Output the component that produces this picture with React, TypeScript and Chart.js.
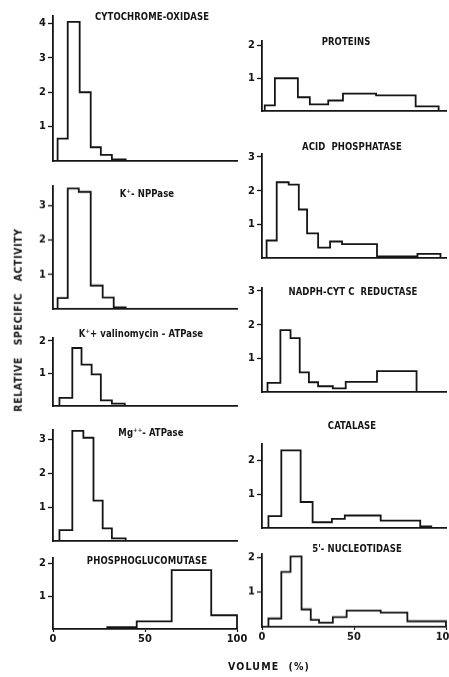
import React, { useEffect, useRef } from 'react';
import { Chart, registerables } from 'chart.js';

Chart.register(...registerables);

// ---------- data (bin edges in % volume, relative specific activity per bin) ----------
const volumeTicks = [0, 50, 100];

const cytoEdges = [2.5, 8, 14.5, 20.5, 26, 32, 39.5];
const cytoValues = [0.65, 4.05, 2.0, 0.4, 0.18, 0.05];
const cytoTicks = [1, 2, 3, 4];

const nppEdges = [2.5, 8, 14, 20.5, 27, 33, 39.5];
const nppValues = [0.32, 3.5, 3.4, 0.68, 0.33, 0.05];
const nppTicks = [1, 2, 3];

const valEdges = [3.5, 10.5, 15.5, 21, 26, 32, 39];
const valValues = [0.25, 1.78, 1.27, 0.97, 0.17, 0.07];
const valTicks = [1, 2];

const mgEdges = [3.5, 10.5, 16.5, 22, 27, 32, 39.5];
const mgValues = [0.32, 3.25, 3.05, 1.19, 0.37, 0.08];
const mgTicks = [1, 2, 3];

const pgmEdges = [29.5, 45.5, 64.5, 86, 100];
const pgmValues = [0.06, 0.23, 1.8, 0.42];
const pgmTicks = [1, 2];

const protEdges = [1.5, 7, 19.5, 26, 36, 44, 62, 83.5, 96];
const protValues = [0.17, 1.0, 0.42, 0.2, 0.32, 0.53, 0.48, 0.14];
const protTicks = [1, 2];

const acidEdges = [2.5, 8, 14.5, 20, 24.5, 30.5, 37, 43.5, 62.5, 84.5, 97];
const acidValues = [0.52, 2.25, 2.18, 1.44, 0.73, 0.31, 0.49, 0.41, 0.05, 0.12];
const acidTicks = [1, 2, 3];

const nadphEdges = [3, 10, 15.5, 20.5, 25.5, 30.5, 38.5, 45.5, 62.5, 84];
const nadphValues = [0.27, 1.84, 1.6, 0.58, 0.29, 0.17, 0.11, 0.3, 0.62];
const nadphTicks = [1, 2, 3];

const catEdges = [3.5, 10.5, 21, 27.5, 38, 45, 64.5, 86, 92];
const catValues = [0.35, 2.3, 0.77, 0.17, 0.27, 0.37, 0.22, 0.05];
const catTicks = [1, 2];

const nucEdges = [3.5, 10.5, 15.5, 21.5, 26.5, 31, 38.5, 46, 64.5, 79, 100];
const nucValues = [0.24, 1.58, 2.02, 0.5, 0.2, 0.12, 0.28, 0.47, 0.41, 0.16];
const nucTicks = [1, 2];

// ---------- layout ----------
const INK = '#151515';
const FONT = "'DejaVu Sans Condensed', 'Liberation Sans Narrow', 'DejaVu Sans', sans-serif";
const PLOT_W = 184;
const YW = 30;
const PAD_T = 8;
const PAD_R = 12;
const LEFT_X = 53;
const RIGHT_X = 262;

type Panel = {
  title: string;
  edges: number[];
  values: number[];
  yTicks: number[];
  yMax: number;
  left: number;
  top: number;
  bottom: number;
  xLabels: boolean;
  tx: number;
  ty: number;
};

const panels: Panel[] = [
  { title: 'CYTOCHROME-OXIDASE', edges: cytoEdges, values: cytoValues, yTicks: cytoTicks, yMax: 4.23, left: LEFT_X, top: 15, bottom: 161, xLabels: false, tx: 152, ty: 16 },
  { title: 'K\u207A- NPPase', edges: nppEdges, values: nppValues, yTicks: nppTicks, yMax: 3.58, left: LEFT_X, top: 185, bottom: 308.5, xLabels: false, tx: 147, ty: 193 },
  { title: 'K\u207A+ valinomycin - ATPase', edges: valEdges, values: valValues, yTicks: valTicks, yMax: 2.1, left: LEFT_X, top: 337, bottom: 406, xLabels: false, tx: 141, ty: 333 },
  { title: 'Mg\u207A\u207A- ATPase', edges: mgEdges, values: mgValues, yTicks: mgTicks, yMax: 3.29, left: LEFT_X, top: 429, bottom: 541, xLabels: false, tx: 151, ty: 432 },
  { title: 'PHOSPHOGLUCOMUTASE', edges: pgmEdges, values: pgmValues, yTicks: pgmTicks, yMax: 2.18, left: LEFT_X, top: 557, bottom: 629, xLabels: true, tx: 147, ty: 560 },
  { title: 'PROTEINS', edges: protEdges, values: protValues, yTicks: protTicks, yMax: 2.15, left: RIGHT_X, top: 40, bottom: 111, xLabels: false, tx: 346, ty: 41 },
  { title: 'ACID  PHOSPHATASE', edges: acidEdges, values: acidValues, yTicks: acidTicks, yMax: 3.1, left: RIGHT_X, top: 153, bottom: 258.3, xLabels: false, tx: 352, ty: 146 },
  { title: 'NADPH-CYT C  REDUCTASE', edges: nadphEdges, values: nadphValues, yTicks: nadphTicks, yMax: 3.1, left: RIGHT_X, top: 287, bottom: 392, xLabels: false, tx: 353, ty: 291 },
  { title: 'CATALASE', edges: catEdges, values: catValues, yTicks: catTicks, yMax: 2.5, left: RIGHT_X, top: 442.5, bottom: 527.5, xLabels: false, tx: 352, ty: 425 },
  { title: "5'- NUCLEOTIDASE", edges: nucEdges, values: nucValues, yTicks: nucTicks, yMax: 2.1, left: RIGHT_X, top: 553, bottom: 626.5, xLabels: true, tx: 357, ty: 548 },
];

function PanelChart({ p }: { p: Panel }) {
  const ref = useRef<HTMLCanvasElement>(null);
  const xH = p.xLabels ? 20 : 10;
  const W = YW + PLOT_W + PAD_R;
  const H = PAD_T + (p.bottom - p.top) + xH;

  useEffect(() => {
    const pts = [
      { x: p.edges[0], y: 0 },
      ...p.values.map((v, i) => ({ x: p.edges[i], y: v })),
      { x: p.edges[p.edges.length - 1], y: 0 },
    ];
    const tickFont = { family: FONT, size: 11, weight: 'bold' as const };
    const chart = new Chart(ref.current!, {
      type: 'line',
      data: {
        datasets: [
          {
            data: pts,
            stepped: true,
            borderColor: INK,
            borderWidth: 1.8,
            pointRadius: 0,
            fill: false,
            clip: false,
          } as any,
        ],
      },
      options: {
        animation: false,
        responsive: false,
        events: [],
        layout: { padding: { top: PAD_T, right: PAD_R, left: 0, bottom: 0 } },
        plugins: { legend: { display: false }, tooltip: { enabled: false } },
        scales: {
          x: {
            type: 'linear',
            min: 0,
            max: 100,
            afterBuildTicks: (s: any) => {
              s.ticks = volumeTicks.map((v) => ({ value: v }));
            },
            afterFit: (s: any) => {
              s.height = xH;
            },
            grid: { display: p.xLabels, drawOnChartArea: false, color: INK, tickLength: 3, tickWidth: 1.2 },
            border: { display: true, color: INK, width: 1.8 },
            ticks: { display: p.xLabels, color: INK, font: tickFont, padding: 1, maxRotation: 0, autoSkip: false },
          },
          y: {
            type: 'linear',
            min: 0,
            max: p.yMax,
            afterBuildTicks: (s: any) => {
              s.ticks = p.yTicks.map((v) => ({ value: v }));
            },
            afterFit: (s: any) => {
              s.width = YW;
            },
            grid: { drawOnChartArea: false, color: INK, tickLength: 5, tickWidth: 1.3 },
            border: { display: true, color: INK, width: 1.8 },
            ticks: { color: INK, font: tickFont, padding: 2 },
          },
        },
      },
    });
    return () => chart.destroy();
  }, []);

  return (
    <canvas
      ref={ref}
      width={W}
      height={H}
      style={{ position: 'absolute', left: p.left - YW, top: p.top - PAD_T, width: W, height: H }}
    />
  );
}

const textBase: React.CSSProperties = {
  position: 'absolute',
  transform: 'translate(-50%, -50%) scaleX(0.9)',
  whiteSpace: 'pre',
  fontFamily: FONT,
  fontStretch: 'condensed',
  fontWeight: 'bold',
  fontSize: 10.5,
  letterSpacing: 0.1,
  color: INK,
  lineHeight: 1,
};

export default function App() {
  return (
    <div
      style={{
        position: 'absolute',
        left: 0,
        top: 0,
        width: 449,
        height: 677,
        overflow: 'hidden',
        background: '#fff',
      }}
    >
      {panels.map((p, i) => (
        <PanelChart key={i} p={p} />
      ))}
      {panels.map((p, i) => (
        <div key={'t' + i} style={{ ...textBase, left: p.tx, top: p.ty }}>
          {p.title}
        </div>
      ))}
      <div
        style={{
          ...textBase,
          left: 18,
          top: 320,
          letterSpacing: 0.6,
          transform: 'translate(-50%, -50%) rotate(-90deg)',
        }}
      >
        {'RELATIVE   SPECIFIC   ACTIVITY'}
      </div>
      <div style={{ ...textBase, left: 269, top: 666, letterSpacing: 1.2, transform: 'translate(-50%, -50%)' }}>
        {'VOLUME  (%)'}
      </div>
    </div>
  );
}
